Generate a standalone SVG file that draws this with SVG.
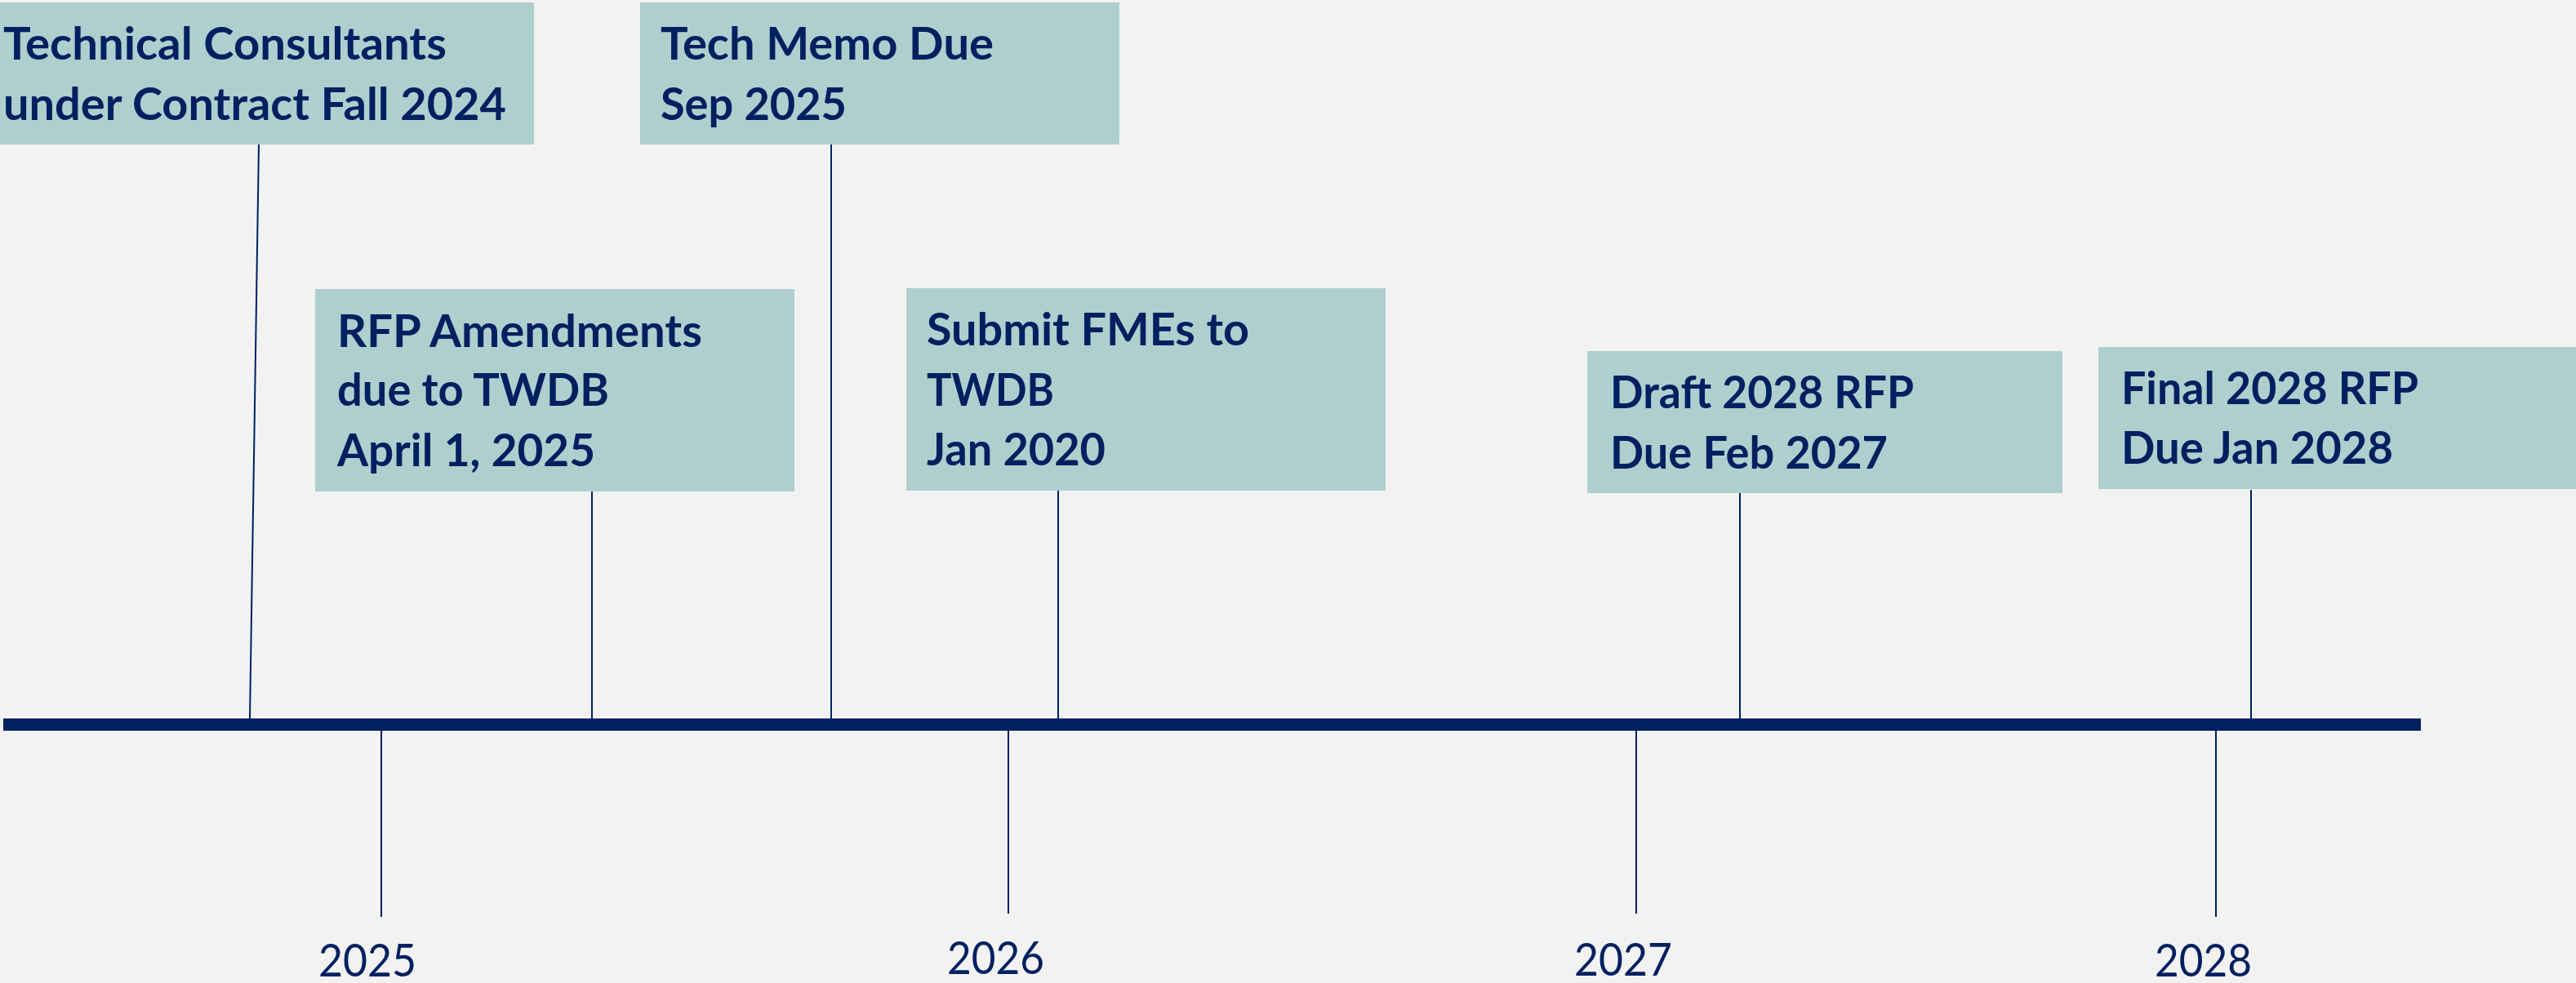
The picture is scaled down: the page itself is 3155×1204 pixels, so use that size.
<svg xmlns="http://www.w3.org/2000/svg" width="3155" height="1204" viewBox="0 0 3155 1204">
<style>
.box{fill:#AFCFCF;}
.lbl{font-family:Lato,"Open Sans","Liberation Sans",sans-serif;font-weight:bold;font-size:55px;fill:#002060;}
.yr{font-family:Lato,"Open Sans","Liberation Sans",sans-serif;font-size:56px;fill:#002060;}
.ln{stroke:#002060;stroke-width:2;fill:none;}
</style>
<rect width="3155" height="1204" fill="#F2F2F2"/>
<g id="connectors">
<line class="ln" x1="317" y1="177" x2="306" y2="880"/>
<line class="ln" x1="1018" y1="177" x2="1018" y2="880"/>
<line class="ln" x1="725" y1="602" x2="725" y2="880"/>
<line class="ln" x1="1296" y1="601" x2="1296" y2="880"/>
<line class="ln" x1="2131" y1="604" x2="2131" y2="880"/>
<line class="ln" x1="2757" y1="600" x2="2757" y2="880"/>
<line class="ln" x1="467" y1="895" x2="467" y2="1123"/>
<line class="ln" x1="1235" y1="895" x2="1235" y2="1119"/>
<line class="ln" x1="2004" y1="895" x2="2004" y2="1119"/>
<line class="ln" x1="2714" y1="895" x2="2714" y2="1123"/>
</g>
<g id="axis">
<rect x="4" y="880" width="2961" height="15" fill="#002060"/>
</g>
<g id="n1">
<rect class="box" x="0" y="3" width="654" height="174"/>
<text class="lbl" x="4" y="73" textLength="543" lengthAdjust="spacingAndGlyphs">Technical Consultants</text>
<text class="lbl" x="4" y="147" textLength="616" lengthAdjust="spacingAndGlyphs">under Contract Fall 2024</text>
</g>
<g id="n2">
<rect class="box" x="784" y="3" width="587" height="174"/>
<text class="lbl" x="809" y="73" textLength="408" lengthAdjust="spacingAndGlyphs">Tech Memo Due</text>
<text class="lbl" x="809" y="147" textLength="228" lengthAdjust="spacingAndGlyphs">Sep 2025</text>
</g>
<g id="n3">
<rect class="box" x="386" y="354" width="587" height="248"/>
<text class="lbl" x="413" y="425" textLength="447" lengthAdjust="spacingAndGlyphs">RFP Amendments</text>
<text class="lbl" x="413" y="497" textLength="333" lengthAdjust="spacingAndGlyphs">due to TWDB</text>
<text class="lbl" x="413" y="571" textLength="316" lengthAdjust="spacingAndGlyphs">April 1, 2025</text>
</g>
<g id="n4">
<rect class="box" x="1110" y="353" width="587" height="248"/>
<text class="lbl" x="1135" y="423" textLength="395" lengthAdjust="spacingAndGlyphs">Submit FMEs to</text>
<text class="lbl" x="1135" y="497" textLength="156" lengthAdjust="spacingAndGlyphs">TWDB</text>
<text class="lbl" x="1135" y="570" textLength="219" lengthAdjust="spacingAndGlyphs">Jan 2020</text>
</g>
<g id="n5">
<rect class="box" x="1944" y="430" width="582" height="174"/>
<text class="lbl" x="1972" y="500" textLength="372" lengthAdjust="spacingAndGlyphs">Draft 2028 RFP</text>
<text class="lbl" x="1972" y="574" textLength="340" lengthAdjust="spacingAndGlyphs">Due Feb 2027</text>
</g>
<g id="n6">
<rect class="box" x="2570" y="425" width="585" height="174"/>
<text class="lbl" x="2598" y="495" textLength="364" lengthAdjust="spacingAndGlyphs">Final 2028 RFP</text>
<text class="lbl" x="2598" y="568" textLength="333" lengthAdjust="spacingAndGlyphs">Due Jan 2028</text>
</g>
<g id="years">
<text class="yr" x="390" y="1196" textLength="120" lengthAdjust="spacingAndGlyphs">2025</text>
<text class="yr" x="1160" y="1193" textLength="119" lengthAdjust="spacingAndGlyphs">2026</text>
<text class="yr" x="1928" y="1195" textLength="120" lengthAdjust="spacingAndGlyphs">2027</text>
<text class="yr" x="2639" y="1196" textLength="119" lengthAdjust="spacingAndGlyphs">2028</text>
</g>
</svg>
